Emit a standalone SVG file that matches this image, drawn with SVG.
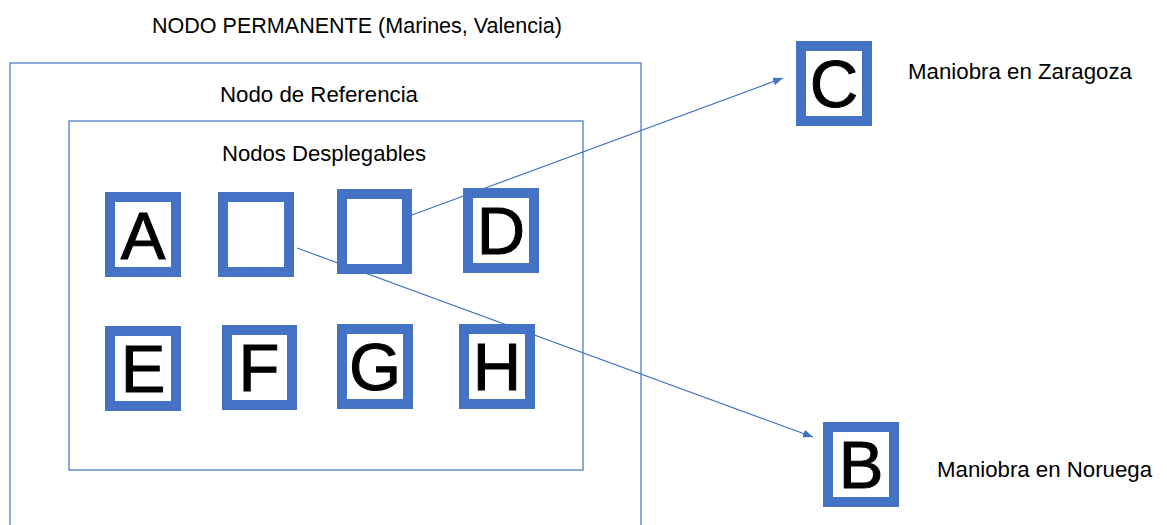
<svg xmlns="http://www.w3.org/2000/svg" width="1167" height="525" viewBox="0 0 1167 525">
  <defs>
    <style>
      .frame { fill: none; stroke: #4472C4; stroke-width: 1.2; }
      .box { fill: #ffffff; stroke: #4472C4; stroke-width: 10; }
      .letter { font-family: "Liberation Sans", Arial, sans-serif; font-size: 67px; fill: #000000; text-anchor: middle; stroke: #000000; stroke-width: 1; }
      .label { font-family: "Liberation Sans", Arial, sans-serif; font-size: 22px; fill: #000000; }
      .mid { text-anchor: middle; }
      .link { fill: none; stroke: #4472C4; stroke-width: 1.2; }
    </style>
    <marker id="arrow" viewBox="0 0 10 8" refX="10" refY="4" markerWidth="10" markerHeight="8" markerUnits="userSpaceOnUse" orient="auto">
      <path d="M0,0 L10,4 L0,8 Z" fill="#4472C4"/>
    </marker>
  </defs>
  <rect width="1167" height="525" fill="#ffffff"/>

  <!-- nested frames -->
  <g id="permanente">
    <rect class="frame" x="10" y="63" width="631" height="480"/>
    <text class="label mid" x="357" y="33" textLength="410" lengthAdjust="spacingAndGlyphs">NODO PERMANENTE (Marines, Valencia)</text>
  </g>
  <g id="referencia">
    <text class="label mid" x="319" y="102" textLength="198" lengthAdjust="spacingAndGlyphs">Nodo de Referencia</text>
  </g>
  <g id="desplegables">
    <rect class="frame" x="69" y="121" width="514" height="349"/>
    <text class="label mid" x="324" y="161" textLength="204" lengthAdjust="spacingAndGlyphs">Nodos Desplegables</text>
  </g>

  <!-- connectors -->
  <g id="connectors">
    <line class="link" x1="412" y1="215" x2="783" y2="78" marker-end="url(#arrow)"/>
    <line class="link" x1="297" y1="248" x2="813" y2="437" marker-end="url(#arrow)"/>
  </g>

  <!-- deployable nodes, top row -->
  <g id="node-A">
    <rect class="box" x="110" y="197" width="66" height="75"/>
    <text class="letter" x="143" y="259">A</text>
  </g>
  <g id="node-empty-1">
    <rect class="box" x="223" y="197" width="66" height="75"/>
  </g>
  <g id="node-empty-2">
    <rect class="box" x="342" y="194" width="65" height="75"/>
  </g>
  <g id="node-D">
    <rect class="box" x="468" y="193" width="66" height="75"/>
    <text class="letter" x="501" y="254">D</text>
  </g>

  <!-- deployable nodes, bottom row -->
  <g id="node-E">
    <rect class="box" x="110" y="331" width="66" height="75"/>
    <text class="letter" x="143" y="392">E</text>
  </g>
  <g id="node-F">
    <rect class="box" x="227" y="330" width="65" height="75"/>
    <text class="letter" x="259" y="391">F</text>
  </g>
  <g id="node-G">
    <rect class="box" x="342" y="329" width="66" height="75"/>
    <text class="letter" x="375" y="390">G</text>
  </g>
  <g id="node-H">
    <rect class="box" x="464" y="329" width="66" height="75"/>
    <text class="letter" x="497" y="390">H</text>
  </g>

  <!-- exercise sites -->
  <g id="node-C">
    <rect class="box" x="801" y="46" width="66" height="75"/>
    <text class="letter" x="834" y="107">C</text>
    <text class="label" x="908" y="79" textLength="224" lengthAdjust="spacingAndGlyphs">Maniobra en Zaragoza</text>
  </g>
  <g id="node-B">
    <rect class="box" x="828" y="427" width="66" height="75"/>
    <text class="letter" x="861" y="488">B</text>
    <text class="label" x="937" y="477" textLength="215" lengthAdjust="spacingAndGlyphs">Maniobra en Noruega</text>
  </g>
</svg>
